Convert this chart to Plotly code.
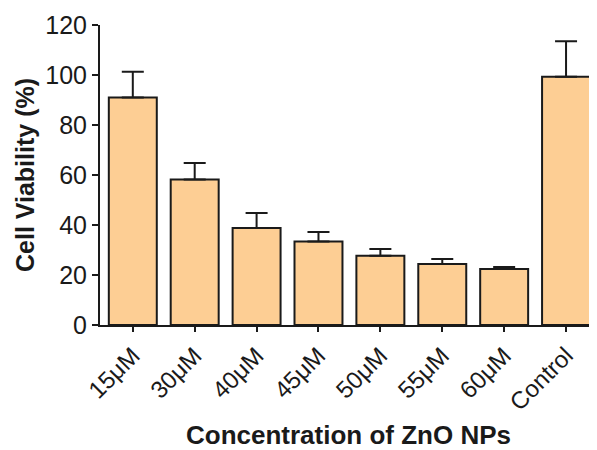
import plotly.graph_objects as go

categories = ["15\u03bcM", "30\u03bcM", "40\u03bcM", "45\u03bcM", "50\u03bcM", "55\u03bcM", "60\u03bcM", "Control"]
viability = [91, 58.2, 38.8, 33.4, 27.7, 24.4, 22.4, 99.3]
errors = [10.3, 6.6, 6.0, 3.8, 2.7, 2.0, 0.8, 14.2]
y_ticks = [0, 20, 40, 60, 80, 100, 120]

font_family = "Liberation Sans, Arial, sans-serif"

fig = go.Figure(
    go.Bar(
        x=list(range(len(categories))),
        y=viability,
        marker=dict(color="#FDCE94", line=dict(color="#1a1a1a", width=2)),
        error_y=dict(
            type="data",
            array=errors,
            arrayminus=[0] * len(errors),
            symmetric=False,
            color="#1a1a1a",
            thickness=2,
            width=11,
        ),
    )
)

fig.update_layout(
    width=589,
    height=442,
    margin=dict(l=92, r=0, t=17, b=125),
    paper_bgcolor="white",
    plot_bgcolor="white",
    bargap=0.225,
    showlegend=False,
    font=dict(family=font_family, color="#1a1a1a"),
)

fig.update_xaxes(
    automargin=False,
    tickmode="array",
    tickvals=list(range(len(categories))),
    ticktext=categories,
    range=[-0.53, 7.5],
    tickangle=-45,
    tickfont=dict(size=24, color="#1a1a1a"),
    showline=True,
    linecolor="#1a1a1a",
    linewidth=2,
    ticks="outside",
    ticklen=5,
    tickwidth=2,
    tickcolor="#1a1a1a",
    showgrid=False,
    zeroline=False,
    title=dict(text="<b>Concentration of ZnO NPs</b>", font=dict(size=26, color="#1a1a1a"), standoff=17),
)

fig.update_yaxes(
    automargin=False,
    range=[0, 120],
    tickmode="array",
    tickvals=y_ticks,
    tickfont=dict(size=25, color="#1a1a1a"),
    showline=True,
    linecolor="#1a1a1a",
    linewidth=2,
    ticks="outside",
    ticklen=6,
    tickwidth=2,
    tickcolor="#1a1a1a",
    showgrid=False,
    zeroline=False,
    title=dict(text="<b>Cell Viability (%)</b>", font=dict(size=25, color="#1a1a1a"), standoff=4),
)

fig.write_html("out.html")
